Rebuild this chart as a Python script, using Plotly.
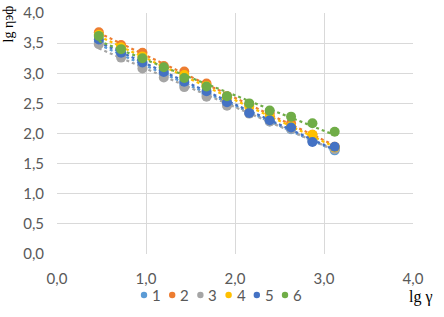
import numpy as np
import plotly.graph_objects as go

lg_gamma = [0.47, 0.72, 0.96, 1.20, 1.43, 1.68, 1.91, 2.16, 2.39, 2.63, 2.87, 3.12]
series_names = ["1", "2", "3", "4", "5", "6"]
s1 = [3.52, 3.30, 3.14, 2.98, 2.82, 2.66, 2.50, 2.35, 2.20, 2.07, 1.88, 1.72]
s2 = [3.68, 3.47, 3.34, 3.12, 3.03, 2.83, 2.62, 2.48, 2.33, 2.17, 1.98, 1.78]
s3 = [3.48, 3.26, 3.08, 2.93, 2.77, 2.61, 2.46, 2.33, 2.20, 2.08, 1.88, 1.74]
s4 = [3.64, 3.43, 3.28, 3.08, 2.97, 2.79, 2.58, 2.45, 2.28, 2.12, 1.98, 1.77]
s5 = [3.56, 3.34, 3.18, 3.02, 2.86, 2.70, 2.52, 2.34, 2.22, 2.10, 1.86, 1.78]
s6 = [3.62, 3.40, 3.25, 3.10, 2.92, 2.78, 2.62, 2.50, 2.38, 2.28, 2.17, 2.03]
colors = ["#5B9BD5", "#ED7D31", "#A5A5A5", "#FFC000", "#4472C4", "#70AD47"]
all_series = [s1, s2, s3, s4, s5, s6]

W, H = 444, 317
ML, MR, MT, MB = 57, 31, 13, 63
PW, PH = W - ML - MR, H - MT - MB


def px_x(px):
    return (px - ML) / PW


def px_y(py):
    return (H - MB - py) / PH


fig = go.Figure()
x = np.array(lg_gamma)
for name, ys, c in zip(series_names, all_series, colors):
    fig.add_trace(go.Scatter(x=lg_gamma, y=ys, mode="markers", name=name,
                             marker=dict(color=c, size=10), showlegend=False))
    k, b = np.polyfit(x, np.array(ys), 1)
    xt = [x.min(), x.max()]
    fig.add_trace(go.Scatter(x=xt, y=[k * v + b for v in xt], mode="lines",
                             line=dict(color=c, width=2.2, dash="dot"),
                             showlegend=False, hoverinfo="skip"))

# custom compact legend (Excel-style)
shapes = []
annotations = []
leg_y = px_y(295)
for i, (name, c) in enumerate(zip(series_names, colors)):
    mx = px_x(144 + i * 28.2)
    shapes.append(dict(type="circle", xref="paper", yref="paper",
                       xsizemode="pixel", ysizemode="pixel",
                       xanchor=mx, yanchor=leg_y, x0=-3.2, x1=3.2, y0=-3.2, y1=3.2,
                       fillcolor=c, line=dict(width=0)))
    annotations.append(dict(text=name, xref="paper", yref="paper",
                            x=px_x(150 + i * 28.2), y=leg_y, xanchor="left",
                            yanchor="middle", showarrow=False,
                            font=dict(size=15, color="#595959")))

annotations += [
    dict(text="lg ηэф", textangle=-90, xref="paper", yref="paper",
         x=px_x(8), y=px_y(4), xanchor="center", yanchor="top", showarrow=False,
         font=dict(family="Liberation Serif, serif", size=14, color="#000000")),
    dict(text="lg γ", xref="paper", yref="paper", x=px_x(421), y=px_y(297),
         xanchor="center", yanchor="middle", showarrow=False,
         font=dict(family="Liberation Serif, serif", size=16, color="#000000")),
]

fig.update_layout(
    width=W, height=H,
    margin=dict(l=ML, r=MR, t=MT, b=MB, autoexpand=False),
    paper_bgcolor="white", plot_bgcolor="white",
    separators=", ",
    showlegend=False,
    font=dict(family="Lato, Open Sans, sans-serif", size=15, color="#595959"),
    xaxis=dict(range=[0, 4], dtick=1, tickformat=".1f", showgrid=True,
               gridcolor="#D9D9D9", gridwidth=1, zeroline=False, showline=False,
               ticks="", ticklabelstandoff=14),
    yaxis=dict(range=[0, 4], dtick=0.5, tickformat=".1f", showgrid=True,
               gridcolor="#D9D9D9", gridwidth=1, zeroline=False, showline=False,
               ticks="", ticklabelstandoff=12),
    shapes=shapes,
    annotations=annotations,
)
fig.write_html("out.html", config={"displayModeBar": False},
               post_script="document.body.style.margin='0';")
